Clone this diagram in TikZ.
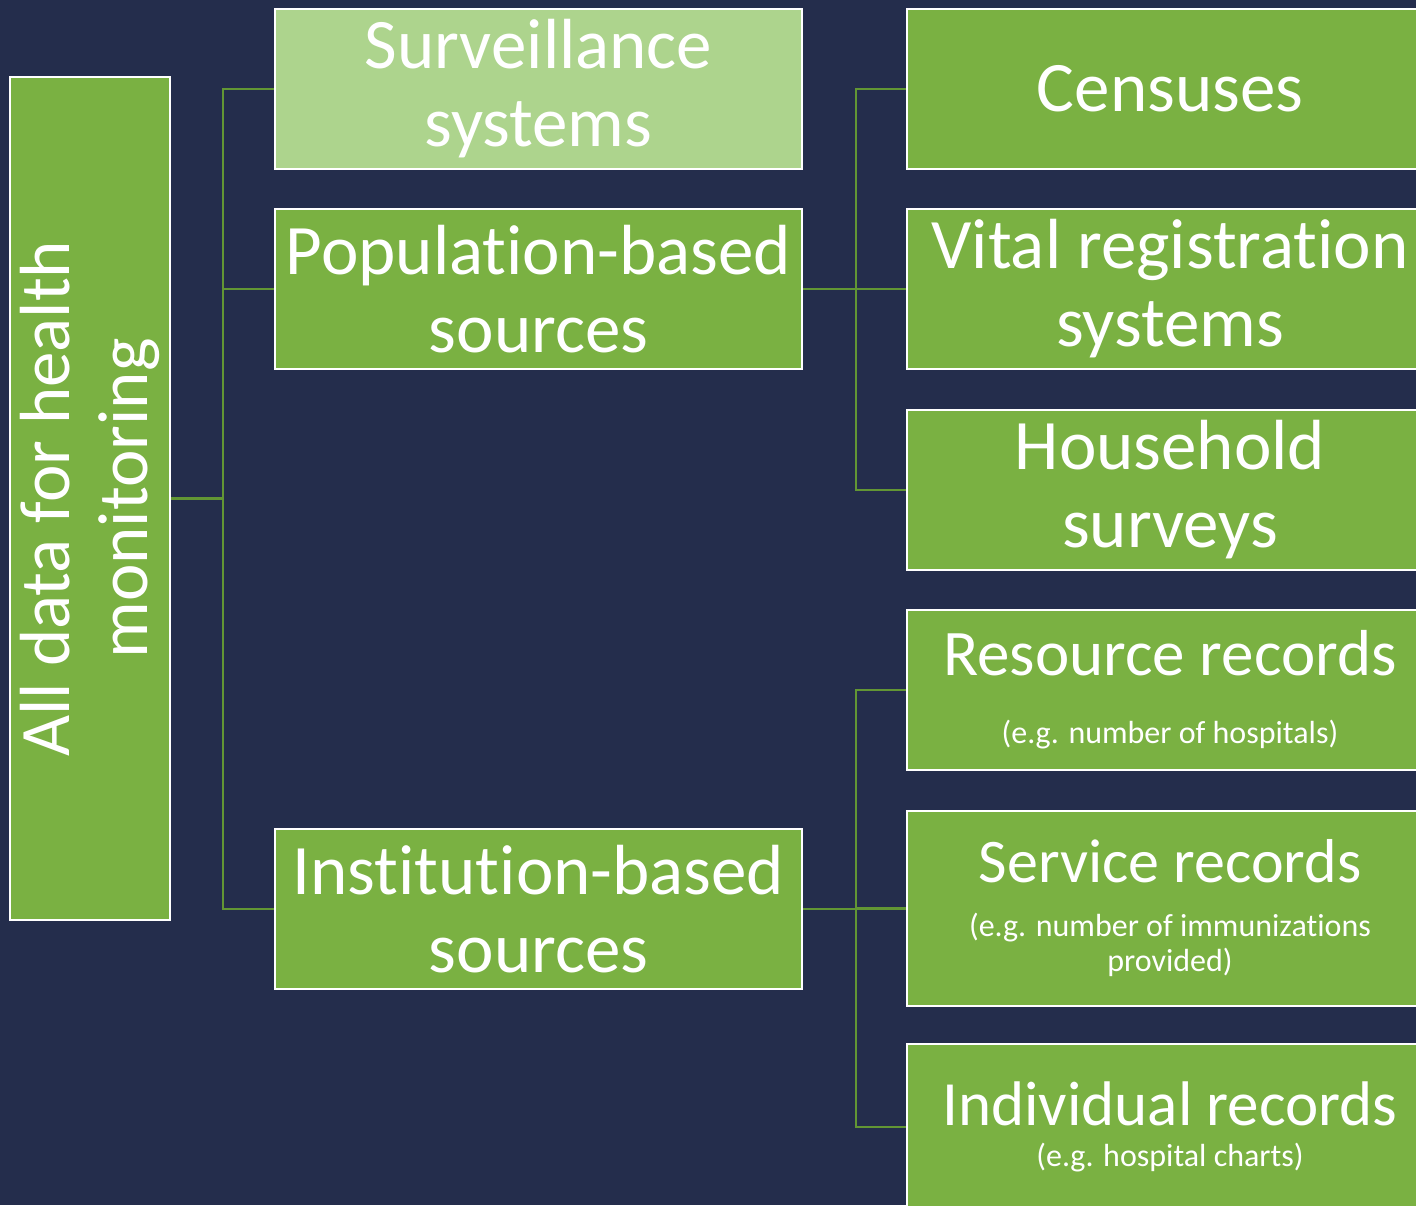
\documentclass[tikz,border=0pt]{standalone}
\usepackage{fontspec}
\setmainfont{Carlito}[Ligatures=NoCommon]
\usepackage{tikz}

\definecolor{navy}{RGB}{36,45,76}
\definecolor{leaf}{RGB}{122,177,66}
\definecolor{paleleaf}{RGB}{173,212,141}
\definecolor{wire}{RGB}{98,150,52}

\newcommand{\note}[1]{{\fontsize{32}{35}\selectfont #1}}

\begin{document}
\begin{tikzpicture}[x=1pt, y=-1pt,
    box/.style={draw=white, line width=2pt, fill=leaf, text=white, align=center,
        font=\fontsize{71}{78}\selectfont, inner sep=0pt},
    lvlone/.style={box, minimum width=527pt, minimum height=160pt},
    lvltwo/.style={box, minimum width=526pt, minimum height=160pt},
    conn/.style={draw=wire, line width=2.6pt}]
    \clip (0,0) rectangle (1416,1205);
    \fill[navy] (0,0) rectangle (1416,1205);
    % root
    \node[box, rotate=90, minimum width=843pt, minimum height=160pt] (root) at (90,498.5)
        {All data for health\\monitoring};
    % first level
    \node[lvlone, fill=paleleaf] (surv) at (538.5,89) {Surveillance\\systems};
    \node[lvlone] (pop) at (538.5,289) {Population-based\\sources};
    \node[lvlone] (inst) at (538.5,909) {Institution-based\\sources};
    % second level
    \node[lvltwo] (cens) at (1170,89) {Censuses};
    \node[lvltwo] (vital) at (1170,289) {Vital registration\\systems};
    \node[lvltwo] (house) at (1170,490) {Household\\surveys};
    \node[lvltwo, font=\fontsize{65}{78}\selectfont] (res) at (1170,690)
        {Resource records\\[-10pt]\note{(e.g. number of hospitals)}};
    \node[lvltwo, minimum height=195pt, font=\fontsize{62}{78}\selectfont] (serv) at (1170,908.5)
        {Service records\\[-24pt]\note{(e.g. number of immunizations}\\[-43pt]\note{provided)}};
    \node[lvltwo, minimum height=166pt, font=\fontsize{63}{78}\selectfont] (indiv) at (1170,1127)
        {Individual records\\[-37pt]\note{(e.g. hospital charts)}};
    % connectors
    \draw[conn] (root.south) -- ++(52,0) |- (surv.west);
    \draw[conn] (root.south) -- ++(52,0) |- (pop.west);
    \draw[conn] (root.south) -- ++(52,0) |- (inst.west);
    \draw[conn] (pop.east) -- ++(53,0) |- (cens.west);
    \draw[conn] (pop.east) -- ++(53,0) |- (vital.west);
    \draw[conn] (pop.east) -- ++(53,0) |- (house.west);
    \draw[conn] (inst.east) -- ++(53,0) |- (res.west);
    \draw[conn] (inst.east) -- ++(53,0) |- (serv.west);
    \draw[conn] (inst.east) -- ++(53,0) |- (indiv.west);
\end{tikzpicture}
\end{document}
